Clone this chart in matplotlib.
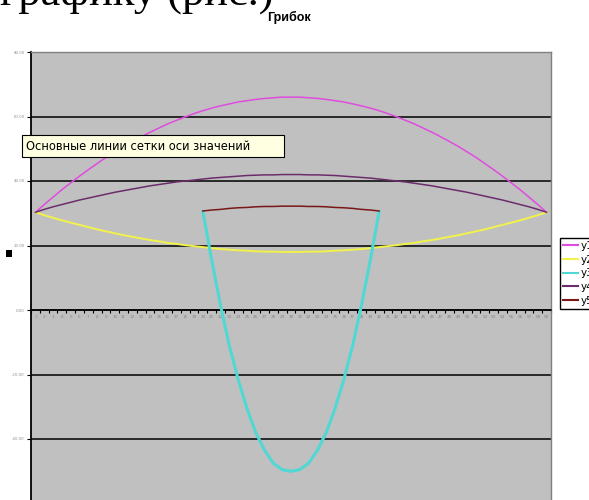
import matplotlib.pyplot as plt
import numpy as np
from matplotlib.patches import Rectangle
from matplotlib.lines import Line2D

# category axis 1..59
categories = [str(i) for i in range(1, 60)]

y1 = [30.3, 32.7, 35.0, 37.3, 39.4, 41.5, 43.5, 45.4, 47.3, 49.0, 50.7, 52.2, 53.7, 55.1, 56.4,
      57.7, 58.8, 59.9, 60.9, 61.8, 62.6, 63.3, 63.9, 64.5, 64.9, 65.3, 65.6, 65.8, 66.0, 66.0,
      66.0, 65.8, 65.6, 65.3, 64.9, 64.5, 63.9, 63.3, 62.6, 61.8, 60.9, 59.9, 58.8, 57.7, 56.4,
      55.1, 53.7, 52.2, 50.7, 49.0, 47.3, 45.4, 43.5, 41.5, 39.4, 37.3, 35.0, 32.7, 30.3]
y2 = [30.3, 29.4, 28.6, 27.8, 27.1, 26.4, 25.7, 25.0, 24.4, 23.8, 23.2, 22.7, 22.2, 21.7, 21.3,
      20.8, 20.5, 20.1, 19.8, 19.5, 19.2, 18.9, 18.7, 18.5, 18.4, 18.2, 18.1, 18.1, 18.0, 18.0,
      18.0, 18.1, 18.1, 18.2, 18.4, 18.5, 18.7, 18.9, 19.2, 19.5, 19.8, 20.1, 20.5, 20.8, 21.3,
      21.7, 22.2, 22.7, 23.2, 23.8, 24.4, 25.0, 25.7, 26.4, 27.1, 27.8, 28.6, 29.4, 30.3]
y4 = [30.3, 31.2, 32.0, 32.7, 33.4, 34.1, 34.7, 35.3, 35.9, 36.5, 37.0, 37.5, 38.0, 38.5, 38.9,
      39.3, 39.7, 40.0, 40.3, 40.6, 40.9, 41.1, 41.3, 41.5, 41.7, 41.8, 41.9, 41.9, 42.0, 42.0,
      42.0, 41.9, 41.9, 41.8, 41.7, 41.5, 41.3, 41.1, 40.9, 40.6, 40.3, 40.0, 39.7, 39.3, 38.9,
      38.5, 38.0, 37.5, 37.0, 36.5, 35.9, 35.3, 34.7, 34.1, 33.4, 32.7, 32.0, 31.2, 30.3]
# stem and cap underside only cover categories 20..40
stem_from = 19
y3 = [30.5, 15.5, 1.5, -11.0, -21.5, -30.5, -38.0, -43.5, -47.5, -49.5, -50.0,
      -49.5, -47.5, -43.5, -38.0, -30.5, -21.5, -11.0, 1.5, 15.5, 30.5]
y5 = [30.7, 31.0, 31.2, 31.5, 31.7, 31.8, 32.0, 32.1, 32.1, 32.2, 32.2,
      32.2, 32.1, 32.1, 32.0, 31.8, 31.7, 31.5, 31.2, 31.0, 30.7]

labels = ["y1", "y2", "y3", "y4", "y5"]
colors = ["#e04ce0", "#f2f24a", "#4fd8d4", "#6c2c6c", "#7a1818"]

fig = plt.figure(figsize=(5.89, 5.0), dpi=100)
ax = fig.add_axes([31 / 589, -0.007, 520 / 589, 0.903])
ax.set_facecolor("#c0c0c0")

x = np.arange(len(categories))
xs = np.arange(stem_from, stem_from + len(y3))
ax.plot(x, y1, color=colors[0], lw=1.1, zorder=3)
ax.plot(x, y2, color=colors[1], lw=1.4, zorder=3)
ax.plot(xs, y3, color=colors[2], lw=2.2, zorder=3)
ax.plot(x, y4, color=colors[3], lw=1.1, zorder=3)
ax.plot(xs, y5, color=colors[4], lw=1.1, zorder=3)

ax.set_xlim(-0.5, len(categories) - 0.5)
ax.set_ylim(-60, 80)
yt = np.arange(-60, 81, 20)
ax.set_yticks(yt)
ax.set_yticklabels([f"{v:.2f}" for v in yt])
ax.tick_params(axis="y", length=3, width=0.8, pad=1.5, labelsize=2.8, labelcolor="#909090")
ax.grid(axis="y", color="black", lw=1.1, zorder=1)

ax.set_xticks(np.arange(-0.5, len(categories)))
ax.set_xticklabels([])
ax.set_xticks(x, minor=True)
ax.set_xticklabels(categories, minor=True)
ax.tick_params(axis="x", which="major", direction="out", length=2.5, width=0.8)
ax.tick_params(axis="x", which="minor", length=0, pad=3.5, labelsize=3,
               labelcolor="#858585")

ax.spines["bottom"].set_position(("data", 0))
ax.spines["bottom"].set_linewidth(1.1)
ax.spines["left"].set_linewidth(1.3)
for s in ("top", "right"):
    ax.spines[s].set_color("#808080")
    ax.spines[s].set_linewidth(1.0)

# text cut off at top of screenshot
fig.text(0.0, 1 - 5 / 500, "графику (рис.)", family="Liberation Serif", fontsize=32,
         va="baseline", ha="left")
fig.text(0.49, 1 - 17 / 500, "Грибок", family="Liberation Sans", fontsize=9,
         fontweight="bold", ha="center", va="center")

# tooltip
fig.add_artist(Rectangle((22 / 589, 1 - 157 / 500), 262 / 589, 22 / 500,
                         transform=fig.transFigure, facecolor="#ffffe1",
                         edgecolor="black", lw=0.8, zorder=10))
fig.text(26 / 589, 1 - 146 / 500, "Основные линии сетки оси значений", fontsize=8.3,
         va="center", ha="left", zorder=11)

# selection handle
fig.add_artist(Rectangle((6 / 589, 1 - 257 / 500), 6 / 589, 7 / 500,
                         transform=fig.transFigure, facecolor="black", lw=0))

handles = [Line2D([], [], color=c, lw=1.5) for c in colors]
fig.legend(handles, labels, loc="upper left", bbox_to_anchor=(560 / 589, 1 - 238 / 500),
           frameon=True, fancybox=False, edgecolor="black", framealpha=1,
           fontsize=7.5, handlelength=1.4, handletextpad=0.3, labelspacing=0.35,
           borderpad=0.3, borderaxespad=0)

fig.savefig("out.png", dpi=100)
